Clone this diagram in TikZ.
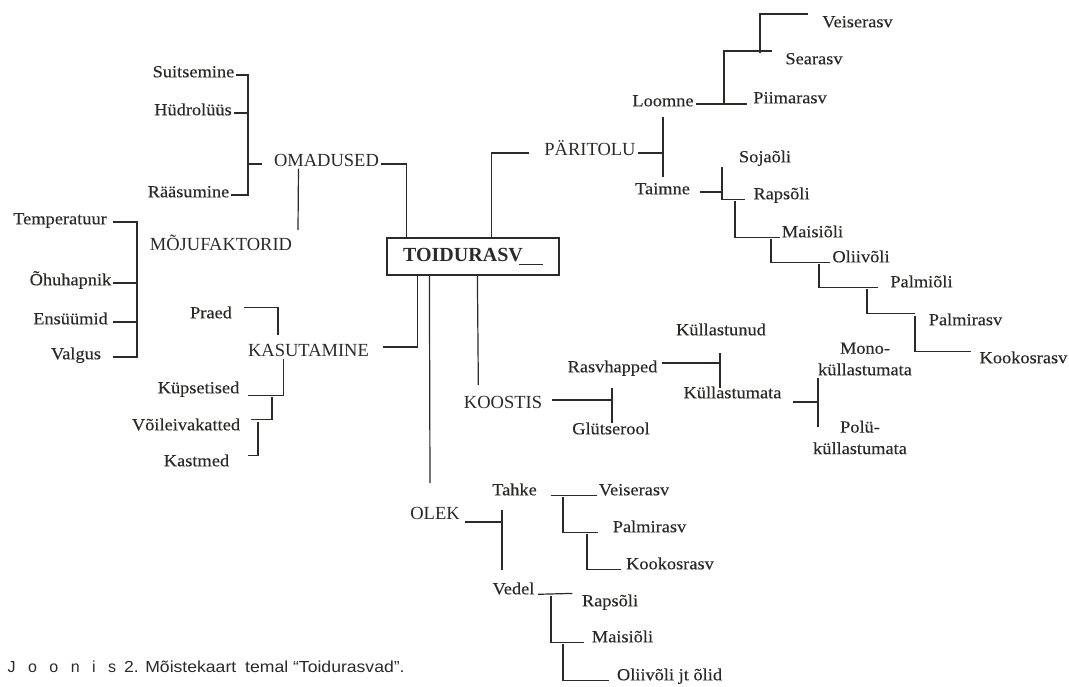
\documentclass[tikz,border=0pt]{standalone}
\usepackage{fontspec}
\setmainfont{Liberation Serif}
\newfontfamily\leaffont[FakeStretch=1.08,FakeBold=0.3]{Liberation Serif}
\newfontfamily\capfont[FakeStretch=1.1]{Liberation Sans}
\newfontfamily\spacedfont[LetterSpace=78]{Liberation Sans}
\definecolor{ink}{HTML}{2B2A26}

\tikzset{
  leaf/.style={font=\leaffont\fontsize{17}{21.5}\selectfont, inner sep=1.5pt, anchor=mid},
  topic/.style={font=\fontsize{18.5}{22}\selectfont, inner sep=1.5pt, anchor=mid},
}

\begin{document}
\begin{tikzpicture}[x=1pt,y=-1pt,line width=1.2pt,color=ink]
    \useasboundingbox (0,0) rectangle (1069,686);

    % centre
    \node[draw, minimum width=172pt, minimum height=37pt, inner sep=0pt,
      font=\bfseries\fontsize{20}{24}\selectfont] (toid) at (473,256.5)
      {TOIDURASV\kern-4pt\rule[-3pt]{24pt}{0.8pt}};

    % omadused
    \node[leaf] (suits) at (193.5,75) {Suitsemine};
    \node[leaf] (hydro) at (193,113) {Hüdrolüüs};
    \node[leaf] (raas) at (188.5,195) {Rääsumine};
    \node[topic] (omad) at (326.5,164) {OMADUSED};
    \coordinate (omB) at (248,140);
    \draw (suits.mid east) -| (omB) |- (raas.mid east);
    \draw (hydro.mid east) -- (hydro.mid east -| omB);
    \draw (omB |- omad.mid west) -- ([xshift=-10pt]omad.mid west);
    \draw (omad.mid east) -| ([xshift=20pt]toid.north west);

    % mojufaktorid
    \node[topic] (mojuf) at (221,248) {MÕJUFAKTORID};
    \coordinate (mjtop) at (298,230);
    \draw ([xshift=26.5pt]omad.south west) -- (mjtop);
    \node[leaf] (temp) at (60,222) {Temperatuur};
    \node[leaf] (ohu) at (70.5,283) {Õhuhapnik};
    \node[leaf] (ens) at (70.5,322) {Ensüümid};
    \node[leaf] (valg) at (76,357) {Valgus};
    \coordinate (mjB) at (137,290);
    \coordinate (mjL) at (113,290);
    \draw (temp.mid east -| mjL) -| (mjB) |- (valg.mid east -| mjL);
    \draw (ohu.mid east -| mjL) -- (ohu.mid east -| mjB);
    \draw (ens.mid east -| mjL) -- (ens.mid east -| mjB);

    % kasutamine
    \node[leaf] (praed) at (211,316) {Praed};
    \node[topic] (kasut) at (308.5,354) {KASUTAMINE};
    \node[leaf] (kups) at (198.5,391) {Küpsetised};
    \node[leaf] (voil) at (186,428) {Võileivakatted};
    \node[leaf] (kastm) at (196.5,464) {Kastmed};
    \coordinate (prC) at (278,335);
    \draw ([xshift=9.5pt,yshift=-3pt]praed.north east) -| (prC);
    \draw ([xshift=11.5pt,yshift=7pt]kasut.mid east) -| ([xshift=31pt]toid.south west);
    \draw ([xshift=37.5pt]kasut.south west) |- ([xshift=6.5pt,yshift=-2pt]kups.base east);
    \coordinate (kb1) at (272,397);
    \coordinate (kb2) at (258,422);
    \draw (kb1) |- ([xshift=8.5pt,yshift=-3pt]voil.north east);
    \draw (kb2) |- ([xshift=16.5pt,yshift=-3pt]kastm.north east);

    % paritolu
    \node[topic] (parit) at (590,153) {PÄRITOLU};
    \node[leaf] (loomne) at (663,104) {Loomne};
    \node[leaf] (taimne) at (662.5,192) {Taimne};
    \draw ([xshift=-13.5pt]parit.mid west) -| ([xshift=105pt]toid.north west);
    \coordinate (pj) at (663,153);
    \draw (parit.mid east) -- (pj);
    \draw ([yshift=36pt]pj) -- ([yshift=-24pt]pj);

    \node[leaf] (veis1) at (857.5,25) {Veiserasv};
    \node[leaf] (searasv) at (814,62) {Searasv};
    \node[leaf] (piim) at (790,101) {Piimarasv};
    \coordinate (lj1) at (724,104);
    \coordinate (lpE) at (747,104);
    \coordinate (lj2) at (760,53);
    \draw (loomne.mid east) -- (lpE);
    \draw (lj1) |- ([xshift=-11.5pt]searasv.north west);
    \draw (lj2) |- ([xshift=-12.5pt]veis1.north west);

    \node[leaf] (soja) at (765,160) {Sojaõli};
    \node[leaf] (raps1) at (781.5,197) {Rapsõli};
    \node[leaf] (mais1) at (812.5,235) {Maisiõli};
    \node[leaf] (oliiv1) at (861,260) {Oliivõli};
    \node[leaf] (palmiol) at (921.5,285) {Palmiõli};
    \node[leaf] (palmr1) at (965.5,323) {Palmirasv};
    \node[leaf] (kook1) at (1023.5,361) {Kookosrasv};
    \coordinate (tj) at (722,192);
    \coordinate (t2) at (735,201);
    \coordinate (t3) at (771,239);
    \coordinate (t4) at (819,264);
    \coordinate (t5) at (867,289);
    \coordinate (t6) at (915,316);
    \draw ([xshift=8pt]taimne.mid east) -- (tj);
    \draw ([yshift=25pt]tj) |- ([xshift=-6pt]raps1.base west);
    \draw (t2) |- (mais1.base west);
    \draw (t3) |- (oliiv1.base west);
    \draw (t4) |- ([xshift=-10pt]palmiol.base west);
    \draw (t5) |- ([xshift=-11.5pt,yshift=-2pt]palmr1.north west);
    \draw (t6) |- ([xshift=-6.5pt,yshift=-2pt]kook1.north west);

    % koostis
    \node[topic] (koost) at (503,406) {KOOSTIS};
    \node[leaf] (rasvh) at (612.5,370) {Rasvhapped};
    \node[leaf] (glyt) at (611,432) {Glütserool};
    \node[leaf] (kyllu) at (721,333) {Küllastunud};
    \node[leaf] (kyllm) at (732.5,396) {Küllastumata};
    \node[leaf, anchor=center, align=center] (mono) at (865,359) {Mono-\\küllastumata};
    \node[leaf, anchor=center, align=center] (polu) at (860,437.5) {Polü-\\küllastumata};
    \draw ([xshift=91pt]toid.south west) -- ([xshift=16.5pt,yshift=9pt]koost.north west);
    \coordinate (kj) at (612,400);
    \draw ([xshift=7.5pt,yshift=6pt]koost.mid east) -- (kj);
    \draw ([yshift=12pt]kj) -- ([yshift=-23pt]kj);
    \coordinate (rj) at (720,363);
    \draw ([xshift=2.5pt,yshift=7pt]rasvh.mid east) -- (rj);
    \draw ([yshift=10pt]rj) -- ([yshift=-25pt]rj);
    \coordinate (mj) at (818,402);
    \draw ([xshift=9.5pt,yshift=-6pt]kyllm.mid east) -- (mj);
    \draw ([yshift=24pt]mj) -- ([yshift=-25pt]mj);

    % olek
    \node[topic] (olek) at (435,517) {OLEK};
    \node[leaf] (tahke) at (514.5,493) {Tahke};
    \node[leaf] (vedel) at (513.5,592) {Vedel};
    \coordinate (olekT) at (430,483);
    \draw ([xshift=43pt]toid.south west) -- (olekT);
    \coordinate (oj) at (502,522);
    \draw ([xshift=3.5pt,yshift=-5pt]olek.mid east) -- (oj);
    \draw ([yshift=12pt]oj) -- ([yshift=-48pt]oj);

    \node[leaf] (veis2) at (634,493) {Veiserasv};
    \node[leaf] (palmr2) at (649.5,530) {Palmirasv};
    \node[leaf] (kook2) at (670,567) {Kookosrasv};
    \draw ([xshift=-46pt]veis2.base west) -- (veis2.base west);
    \coordinate (pa1) at (563,497);
    \coordinate (pa2) at (587,534);
    \draw (pa1) |- ([xshift=-12.5pt]palmr2.base west);
    \draw (pa2) |- ([xshift=-3.5pt]kook2.base west);

    \node[leaf] (raps2) at (610,604) {Rapsõli};
    \node[leaf] (mais2) at (622.5,640) {Maisiõli};
    \node[leaf] (oliiv2) at (669.5,678) {Oliivõli jt õlid};
    \draw ([xshift=1.5pt]vedel.base east) -- ([xshift=-7.5pt,yshift=-1pt]raps2.north west);
    \coordinate (va1) at (551,596);
    \coordinate (va2) at (563,644);
    \draw (va1) |- ([xshift=-5.5pt]mais2.base west);
    \draw (va2) |- ([xshift=-5.5pt]oliiv2.base west);

    % caption
    \node[anchor=base west, inner sep=0pt, font=\capfont\fontsize{16}{19}\selectfont] (cap) at (7,672)
      {{\spacedfont Joonis}\hspace{3pt} 2. Mõistekaart\hspace{4pt} temal “Toidurasvad”.};
\end{tikzpicture}
\end{document}
